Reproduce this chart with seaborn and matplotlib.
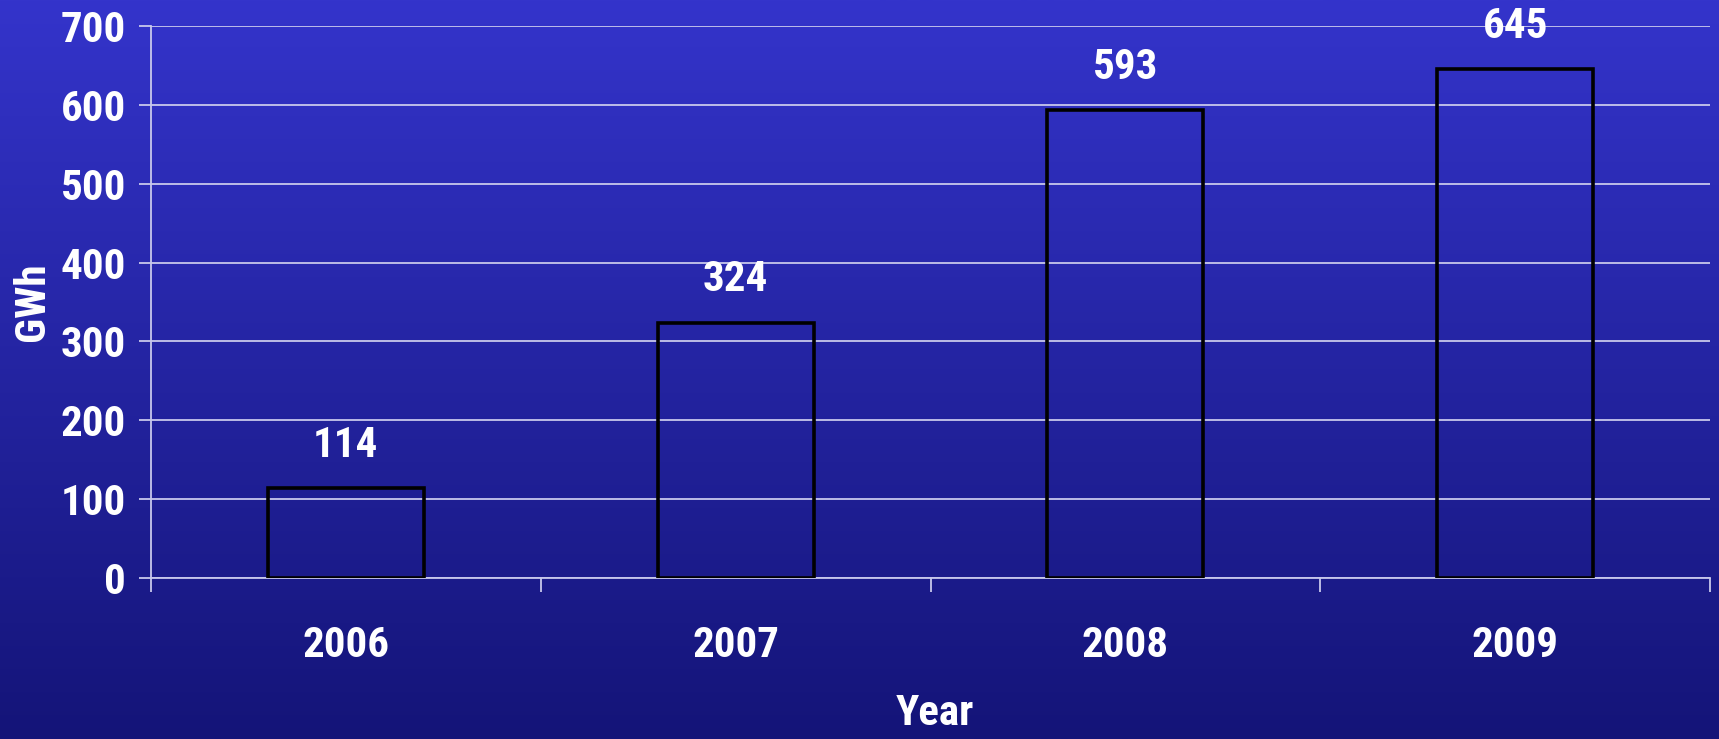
import numpy as np
import pandas as pd
import matplotlib
matplotlib.use("Agg")
import matplotlib.pyplot as plt
from matplotlib import font_manager
import seaborn as sns

years = ["2006", "2007", "2008", "2009"]
gwh = [114, 324, 593, 645]
y_ticks = [0, 100, 200, 300, 400, 500, 600, 700]

sns.set_theme(style="white")

# prefer a narrow / condensed sans if one is installed
names = {f.name for f in font_manager.fontManager.ttflist}
narrow = [n for n in ["Liberation Sans Narrow", "Arial Narrow", "Roboto Condensed",
                      "Open Sans Condensed", "Noto Sans Condensed", "DejaVu Sans Condensed"]
          if n in names]
extra = sorted(n for n in names if ("Narrow" in n or "Condensed" in n) and n not in narrow)
chosen = narrow + extra
fam = (chosen[:1] if chosen else []) + ['Liberation Sans', 'DejaVu Sans']
is_narrow = bool(chosen)
plt.rcParams['font.family'] = fam
plt.rcParams['font.weight'] = 'bold'
FS = 31 if is_narrow else 29

W, H, DPI = 1719, 739, 100
fig = plt.figure(figsize=(W / DPI, H / DPI), dpi=DPI)

# background gradient
bg = fig.add_axes([0, 0, 1, 1], zorder=-10)
top = np.array([52, 52, 203]) / 255
bot = np.array([20, 20, 120]) / 255
t = np.linspace(0, 1, 256)[:, None]
grad = top[None, :] * (1 - t) + bot[None, :] * t
bg.imshow(grad[:, None, :], aspect='auto', extent=[0, 1, 0, 1])
bg.axis('off')

left, right = 151 / W, 1710 / W
bottom, topp = (H - 578) / H, (H - 26) / H
ax = fig.add_axes([left, bottom, right - left, topp - bottom])
ax.patch.set_alpha(0)

df = pd.DataFrame({"Year": years, "GWh": gwh})
sns.barplot(data=df, x="Year", y="GWh", ax=ax, fill=False, color="black",
            linewidth=2.6, width=0.4, zorder=3)
for p in ax.patches:
    p.set_edgecolor("black")
    p.set_zorder(3)

ax.set_xlim(-0.5, 3.5)
ax.set_ylim(0, 700)
ax.set_yticks(y_ticks)
ax.set_yticklabels([str(v) for v in y_ticks])

gridc = "#c8c8ec"
ax.grid(axis='y', color=gridc, linewidth=1.3, zorder=1)
ax.set_axisbelow(True)
for s in ["top", "right"]:
    ax.spines[s].set_visible(False)
for s in ["left", "bottom"]:
    ax.spines[s].set_color(gridc)
    ax.spines[s].set_linewidth(1.3)

# x ticks: boundaries as major ticks, labels as minor
ax.set_xticks([-0.5, 0.5, 1.5, 2.5, 3.5])
ax.set_xticklabels([])
ax.set_xticks([0, 1, 2, 3], minor=True)
ax.set_xticklabels(years, minor=True)
ax.tick_params(axis='x', which='major', length=10, width=1.3, color=gridc, direction='out', bottom=True)
ax.tick_params(axis='x', which='minor', length=0, pad=34, labelsize=FS, labelcolor='white')
ax.tick_params(axis='y', length=9, width=1.3, color=gridc, direction='out', left=True,
               pad=9, labelsize=FS, labelcolor='white')
for lab in ax.get_xticklabels(minor=True) + ax.get_yticklabels():
    lab.set_fontweight('bold')

for i, v in enumerate(gwh):
    ax.annotate(str(v), xy=(i, v), xytext=(0, 31), textcoords='offset points',
                ha='center', va='center', fontsize=FS, fontweight='bold', color='white',
                annotation_clip=False)

ax.set_ylabel("GWh", fontsize=FS, fontweight='bold', color='white')
ax.yaxis.set_label_coords(-0.063, 0.5)
ax.set_xlabel("Year", fontsize=FS, fontweight='bold', color='white')
ax.xaxis.set_label_coords(0.503, -0.266)
ax.xaxis.label.set_va('baseline')

fig.savefig("out.png", dpi=DPI)
